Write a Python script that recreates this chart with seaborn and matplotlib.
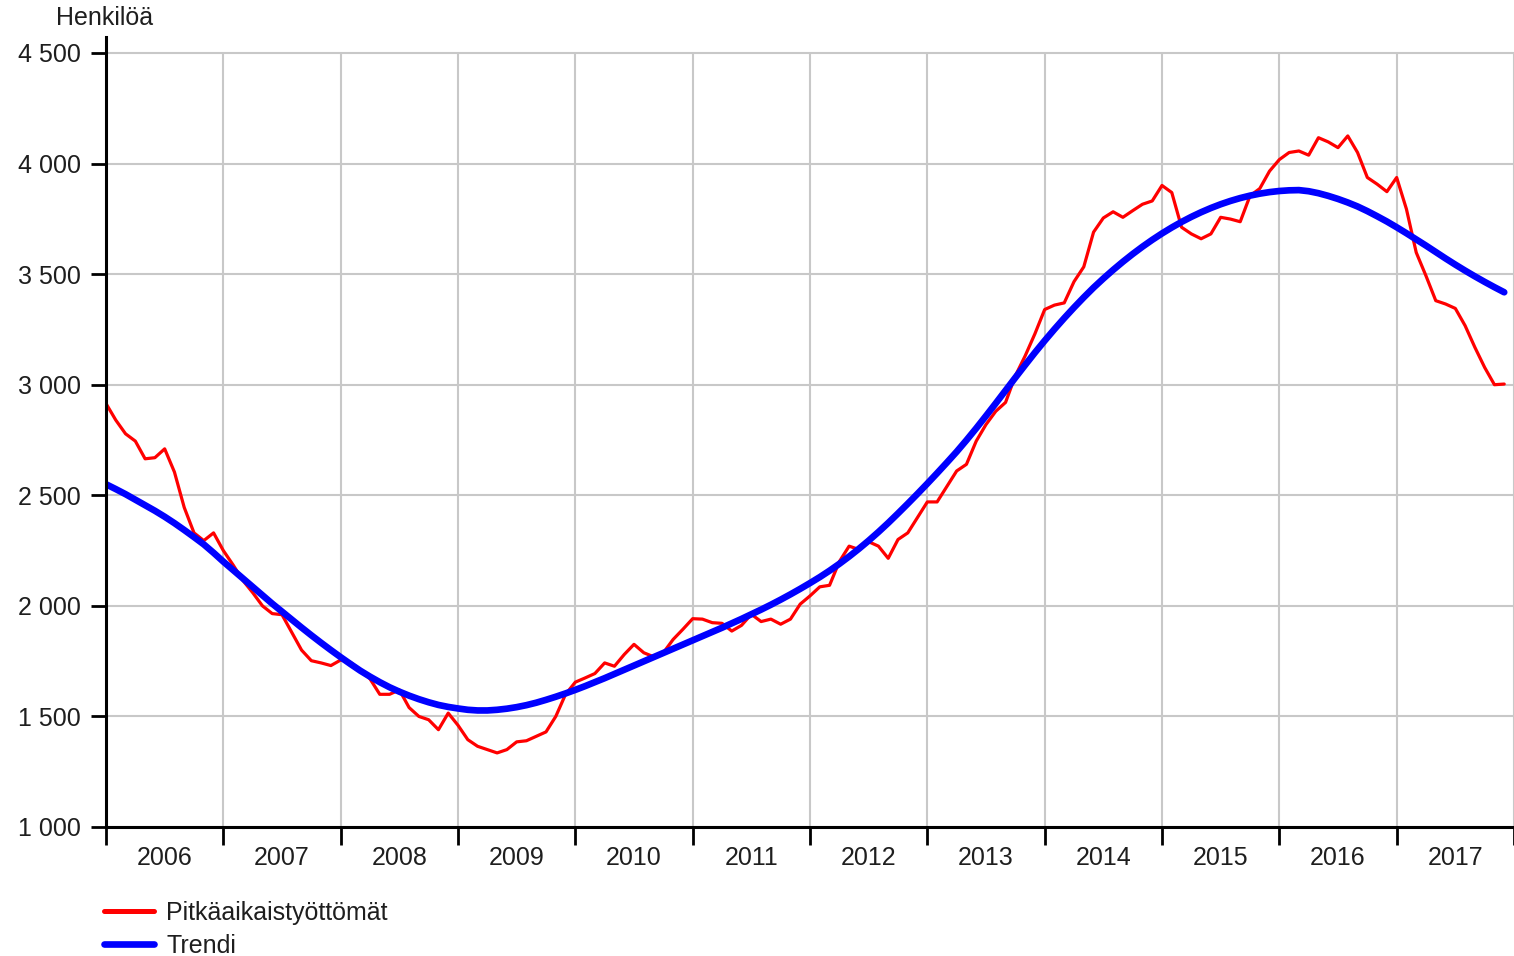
import numpy as np
import pandas as pd
import seaborn as sns
import matplotlib.pyplot as plt
from matplotlib.ticker import FixedLocator, FuncFormatter

# ---------------- data ----------------
years = list(range(2006, 2018))          # x-axis categories (years)
y_ticks = [1000, 1500, 2000, 2500, 3000, 3500, 4000, 4500]

# Pitkäaikaistyöttömät, monthly Jan 2006 - Dec 2017
long_term = [
    2915, 2840, 2778, 2745, 2665, 2670, 2710, 2605, 2445, 2330, 2295, 2330,   # 2006
    2250, 2185, 2115, 2060, 2000, 1965, 1960, 1880, 1800, 1752, 1742, 1730,   # 2007
    1755, 1745, 1710, 1670, 1600, 1600, 1620, 1540, 1500, 1485, 1440, 1515,   # 2008
    1460, 1395, 1365, 1350, 1335, 1350, 1385, 1390, 1410, 1430, 1500, 1600,   # 2009
    1655, 1674, 1694, 1742, 1727, 1780, 1826, 1788, 1770, 1788, 1848, 1894,   # 2010
    1942, 1940, 1924, 1921, 1886, 1912, 1962, 1929, 1940, 1917, 1940, 2008,   # 2011
    2045, 2086, 2093, 2200, 2270, 2255, 2290, 2270, 2215, 2300, 2330, 2400,   # 2012
    2470, 2470, 2540, 2610, 2640, 2745, 2820, 2880, 2920, 3040, 3130, 3230,   # 2013
    3340, 3360, 3370, 3466, 3533, 3690, 3754, 3782, 3757, 3787, 3816, 3831,   # 2014
    3901, 3869, 3712, 3682, 3660, 3682, 3757, 3749, 3737, 3854, 3887, 3966,   # 2015
    4018, 4050, 4057, 4038, 4117, 4098, 4072, 4125, 4050, 3937, 3907, 3873,   # 2016
    3937, 3794, 3598, 3492, 3380, 3365, 3345, 3267, 3169, 3078, 3000, 3003,   # 2017
]

# Trendi, monthly Jan 2006 - Dec 2017
trend = [
    2550, 2528, 2505, 2480, 2455, 2430, 2403, 2374, 2343, 2311, 2278, 2240,   # 2006
    2200, 2162, 2124, 2086, 2048, 2010, 1974, 1938, 1902, 1867, 1833, 1800,   # 2007
    1768, 1737, 1707, 1680, 1655, 1632, 1612, 1594, 1578, 1564, 1552, 1543,   # 2008
    1536, 1530, 1527, 1527, 1530, 1535, 1542, 1551, 1562, 1575, 1589, 1604,   # 2009
    1620, 1637, 1655, 1673, 1692, 1711, 1730, 1749, 1768, 1787, 1806, 1825,   # 2010
    1844, 1863, 1882, 1901, 1921, 1941, 1962, 1983, 2005, 2028, 2052, 2077,   # 2011
    2103, 2130, 2159, 2190, 2223, 2258, 2295, 2334, 2375, 2418, 2462, 2507,   # 2012
    2553, 2600, 2648, 2697, 2749, 2803, 2859, 2916, 2974, 3032, 3089, 3145,   # 2013
    3199, 3251, 3301, 3349, 3395, 3439, 3480, 3519, 3556, 3591, 3624, 3655,   # 2014
    3684, 3711, 3736, 3759, 3780, 3799, 3816, 3831, 3844, 3855, 3864, 3871,   # 2015
    3876, 3879, 3880, 3875, 3866, 3854, 3840, 3824, 3806, 3785, 3762, 3738,   # 2016
    3712, 3685, 3657, 3629, 3600, 3571, 3543, 3516, 3490, 3465, 3441, 3418,   # 2017
]

series_names = ["Pitkäaikaistyöttömät", "Trendi"]
series_colors = ["#ff0000", "#0000ff"]

# ---------------- frame ----------------
n = len(long_term)
month_pos = [years[0] + i / 12 for i in range(n)]
df = pd.DataFrame({
    "t": month_pos * 2,
    "value": long_term + trend,
    "series": [series_names[0]] * n + [series_names[1]] * n,
})

sns.set_theme(style="white")
plt.rcParams["font.family"] = ["Liberation Sans", "DejaVu Sans"]
TXT = "#1e1e1e"
FS = 18

W, H = 1514, 956
fig = plt.figure(figsize=(W / 100, H / 100), dpi=100)
ax = fig.add_axes([106 / W, 1 - 827 / H, (W - 106) / W, (827 - 37) / H])

# gridlines (vertical ones only up to the 4500 line)
ax.vlines(years + [years[-1] + 1], y_ticks[0], y_ticks[-1],
          colors="#c8c8c8", linewidth=1.5, zorder=1)
ax.hlines(y_ticks, years[0], years[-1] + 1,
          colors="#c8c8c8", linewidth=1.5, zorder=1)

sns.lineplot(data=df[df.series == series_names[0]], x="t", y="value",
             color=series_colors[0], linewidth=2.3, ax=ax,
             label=series_names[0], zorder=3)
sns.lineplot(data=df[df.series == series_names[1]], x="t", y="value",
             color=series_colors[1], linewidth=4.8, ax=ax,
             label=series_names[1], zorder=4, solid_capstyle="round")

ax.set_xlim(years[0], years[-1] + 1)
ax.set_ylim(1000, 1000 + (827 - 37) * 3500 / 774)

# ticks
ax.xaxis.set_major_locator(FixedLocator(years + [years[-1] + 1]))
ax.xaxis.set_minor_locator(FixedLocator([y + 0.5 for y in years]))
ax.xaxis.set_major_formatter(FuncFormatter(lambda v, p: ""))
ax.xaxis.set_minor_formatter(FuncFormatter(lambda v, p: f"{int(v)}"))
ax.tick_params(axis="x", which="major", direction="out", length=13, width=2,
               color="black", bottom=True)
ax.tick_params(axis="x", which="minor", length=0, pad=14, labelsize=FS,
               labelcolor=TXT, bottom=True)

ax.yaxis.set_major_locator(FixedLocator(y_ticks))
ax.yaxis.set_major_formatter(FuncFormatter(lambda v, p: f"{int(v):,}".replace(",", " ")))
ax.tick_params(axis="y", which="major", direction="out", length=11, width=2,
               color="black", left=True, pad=7, labelsize=FS, labelcolor=TXT)

ax.grid(False)

for s in ["top", "right"]:
    ax.spines[s].set_visible(False)
for s in ["left", "bottom"]:
    ax.spines[s].set_color("black")
    ax.spines[s].set_linewidth(2.2)
    ax.spines[s].set_zorder(5)

ax.set_xlabel("")
ax.set_ylabel("")

fig.text(56 / W, 1 - 18 / H, "Henkilöä", ha="left", va="center",
         fontsize=FS, color=TXT)

leg = ax.legend(loc="upper left", bbox_to_anchor=(104 / W, 1 - 901 / H),
                bbox_transform=fig.transFigure, frameon=False, fontsize=FS,
                handlelength=2.0, handletextpad=0.5, labelspacing=0.35,
                borderpad=0, borderaxespad=0)
for line, lw in zip(leg.get_lines(), [3.6, 4.8]):
    line.set_linewidth(lw)
    line.set_solid_capstyle("round")
for t in leg.get_texts():
    t.set_color(TXT)

fig.savefig("out.png", dpi=100)
